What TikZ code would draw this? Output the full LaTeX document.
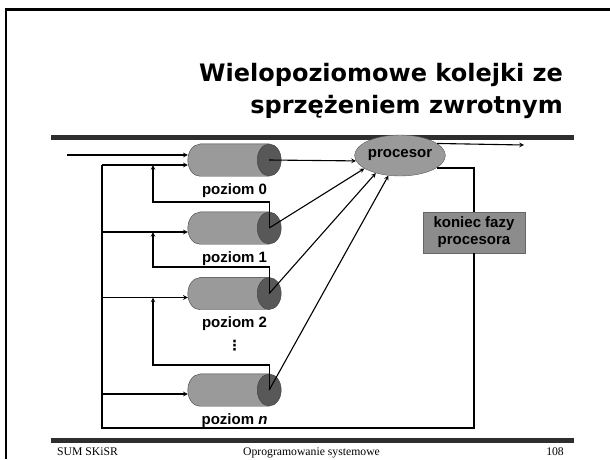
\documentclass[tikz,border=0pt]{standalone}
\usepackage{fontspec}
\setmainfont{Liberation Serif}
\newfontfamily\titlefont{DejaVu Sans}
\newfontfamily\labelfont{Liberation Sans}
\usetikzlibrary{shapes.geometric,calc}
\definecolor{bodygray}{HTML}{9A9A9A}
\definecolor{capgray}{HTML}{585858}
\definecolor{boxgray}{HTML}{8C8C8C}
\definecolor{rulegray}{HTML}{2E2E2E}

\begin{document}
\begin{tikzpicture}[x=1pt,y=-1pt]
\useasboundingbox (0,0) rectangle (610,459);
\tikzstyle{every node}=[inner sep=0pt, font=\labelfont\bfseries\fontsize{15}{17}\selectfont]
\tikzstyle{queue}=[rectangle, minimum width=93pt, minimum height=32pt]
\tikzstyle{loopline}=[line width=2pt]
\tikzstyle{flow}=[line width=1.1pt, -stealth]

% frame and rules
\draw[line width=2.2pt] (6,459) -- (6,9.5) -- (610,9.5);
\draw[rulegray, line width=5pt] (51,137.5) -- (574,137.5);
\draw[rulegray, line width=5pt] (51,440) -- (574,440);

% title
\node[font=\titlefont\bfseries\fontsize{24}{32}\selectfont, anchor=base east] (title1) at (563,81) {Wielopoziomowe kolejki ze};
\node[font=\titlefont\bfseries\fontsize{24}{32}\selectfont, anchor=base east] (title2) at (563,113) {sprzężeniem zwrotnym};

% queues
\node[queue, label={[label distance=7pt]below:{poziom 0}}] (q0) at (234.5,160) {};
\node[queue, label={[label distance=7pt]below:{poziom 1}}] (q1) at (234.5,228) {};
\node[queue, label={[label distance=7pt]below:{poziom 2}}] (q2) at (234.5,293.5) {};
\node[queue, label={[label distance=7pt]below:{poziom \textit{n}}}] (qn) at (234.5,390) {};
\node[font=\titlefont\bfseries\fontsize{14}{14}\selectfont] (dots) at (234.5,345.5) {⋮};

\foreach \q in {q0,q1,q2,qn}{
  \draw[black!75, fill=bodygray] ($(\q.north west)+(12,0)$) -- ($(\q.north east)+(-12,0)$)
    -- ($(\q.south east)+(-12,0)$) -- ($(\q.south west)+(12,0)$)
    arc[start angle=270, end angle=90, x radius=12pt, y radius=16pt] -- cycle;
  \draw[black!75, fill=capgray] ($(\q.east)+(-12,0)$) ellipse[x radius=12pt, y radius=16pt];
}

\node[ellipse, draw=black!65, fill=bodygray, minimum width=76pt, minimum height=41pt] (proc) at (400,155.5) {procesor};
\node[draw=black!60, fill=boxgray, minimum width=102pt, minimum height=41pt, align=center] (box) at (474,232.5) {koniec fazy\\procesora};

\coordinate (c0) at ($(q0.east)+(-12,0)$);
\coordinate (c1) at ($(q1.east)+(-12,0)$);
\coordinate (c2) at ($(q2.east)+(-12,0)$);
\coordinate (cn) at ($(qn.east)+(-12,0)$);
\coordinate (in) at (67,155);
\coordinate (out) at (524,145);
\coordinate (bl) at (102,428);
\coordinate (b0) at (102,165);
\coordinate (b1) at (102,232);
\coordinate (b2) at (102,297.5);
\coordinate (bn) at (102,394);
\coordinate (u1) at (153,202);
\coordinate (u2) at (153,267);
\coordinate (un) at (153,365);

% big loop
\draw[loopline] (proc.-18) -| (box.north);
\draw[loopline] (box.south) |- (bl) -- (b0);
\draw[flow] (in) -- (in -| q0.west);
\draw[flow] (b0) -- (b0 -| q0.west);
\draw[flow] (b1) -- (b1 -| q1.west);
\draw[flow] (b2) -- (b2 -| q2.west);
\draw[flow] (bn) -- (bn -| qn.west);

% feedback
\draw[flow] (c1) |- (u1) -- (u1 |- b0);
\draw[flow] (c2) |- (u2) -- (u2 |- b1);
\draw[flow] (cn) |- (un) -- (un |- b2);

% to processor
\draw[flow] (c0) -- (proc.187);
\draw[flow] (c1) -- (proc.200);
\draw[flow] (c2) -- (proc.216);
\draw[flow] (cn) -- (proc.240);
\draw[flow] (proc.18) -- (out);

% footer
\node[font=\rmfamily\mdseries\fontsize{11.7}{13}\selectfont, anchor=base west] (foot1) at (57,455.5) {SUM SKiSR};
\node[font=\rmfamily\mdseries\fontsize{11.7}{13}\selectfont, anchor=base] (foot2) at (311.5,455.5) {Oprogramowanie systemowe};
\node[font=\rmfamily\mdseries\fontsize{11.7}{13}\selectfont, anchor=base east] (foot3) at (564,455.5) {108};
\end{tikzpicture}
\end{document}
